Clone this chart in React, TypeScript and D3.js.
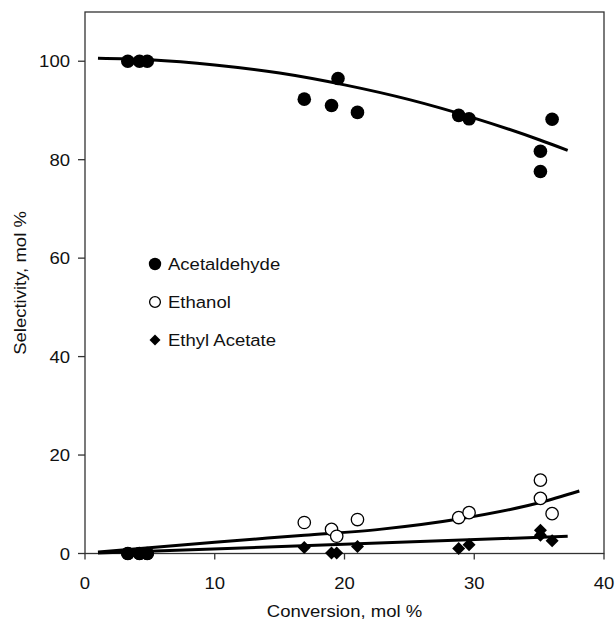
import React from "react";
import * as d3 from "d3";

const xTicks = [0, 10, 20, 30, 40];
const yTicks = [0, 20, 40, 60, 80, 100];

const acetX = [3.3, 4.2, 4.8, 16.9, 19.0, 19.5, 21.0, 28.8, 29.6, 35.1, 35.1, 36.0];
const acetY = [100, 100, 100, 92.3, 91.0, 96.5, 89.6, 89.0, 88.3, 81.7, 77.6, 88.2];

const ethX = [3.3, 4.2, 4.8, 16.9, 19.0, 19.4, 21.0, 28.8, 29.6, 35.1, 35.1, 36.0];
const ethY = [0, 0, 0, 6.3, 4.9, 3.5, 6.9, 7.3, 8.3, 14.9, 11.2, 8.1];

const eaX = [3.3, 4.2, 4.8, 16.9, 19.0, 19.4, 21.0, 28.8, 29.6, 35.1, 35.1, 36.0];
const eaY = [0, 0, 0, 1.2, 0.1, 0.1, 1.4, 1.0, 1.8, 4.7, 3.7, 2.6];

const acetFitX = [1, 5, 10, 15, 20, 25, 30, 35, 37.2];
const acetFitY = [100.6, 100.3, 99.25, 97.6, 95.2, 92.2, 88.45, 84.05, 81.9];
const ethFitX = [1, 10, 16.9, 22.7, 28.8, 35, 38.1];
const ethFitY = [0.3, 2.3, 3.7, 4.9, 7.0, 10.3, 12.7];
const eaFitX = [1, 37.2];
const eaFitY = [0.1, 3.5];

const legendLabels = ["Acetaldehyde", "Ethanol", "Ethyl Acetate"];

const W = 616, H = 625;
const L = 85, R = 604, T = 12, B = 553.5;
const FS = 17;
const SX = 1.09;

function T2(props: { x: number; y: number; anchor?: string; children: React.ReactNode; rotate?: boolean }) {
  const { x, y, anchor = "start", children, rotate } = props;
  return (
    <text
      transform={`translate(${x},${y})${rotate ? " rotate(-90)" : ""} scale(${SX},1)`}
      textAnchor={anchor}
      fontSize={FS}
      fill="#111"
    >
      {children}
    </text>
  );
}

export default function App() {
  const x = d3.scaleLinear().domain([0, 40]).range([L, R]);
  const y = d3.scaleLinear().domain([0, 110]).range([B, T]);
  const line = d3.line<[number, number]>().x(d => x(d[0])).y(d => y(d[1])).curve(d3.curveMonotoneX);
  const zip = (a: number[], b: number[]) => a.map((v, i) => [v, b[i]] as [number, number]);
  const diamond = (cx: number, cy: number, s: number) => `M${cx},${cy - s}L${cx + s},${cy}L${cx},${cy + s}L${cx - s},${cy}Z`;
  const font = "'Liberation Sans', Arial, sans-serif";
  return (
    <svg width={W} height={H} style={{ position: "absolute", left: 0, top: 0, background: "#fff" }} fontFamily={font}>
      <rect x={L} y={T} width={R - L} height={B - T} fill="none" stroke="#333" strokeWidth={1.3} />
      {yTicks.map(t => (
        <g key={"y" + t}>
          <line x1={L - 7} x2={L} y1={y(t)} y2={y(t)} stroke="#333" strokeWidth={1.3} />
          <T2 x={L - 15} y={y(t) + 6} anchor="end">{t}</T2>
        </g>
      ))}
      {xTicks.map(t => (
        <g key={"x" + t}>
          <line x1={x(t)} x2={x(t)} y1={B} y2={B + 6} stroke="#333" strokeWidth={1.3} />
          <T2 x={x(t)} y={B + 35.5} anchor="middle">{t}</T2>
        </g>
      ))}
      <T2 x={(L + R) / 2} y={617} anchor="middle">Conversion, mol %</T2>
      <T2 x={26} y={283} anchor="middle" rotate>Selectivity, mol %</T2>

      <path d={line(zip(acetFitX, acetFitY)) || ""} fill="none" stroke="#000" strokeWidth={3} />
      <path d={line(zip(ethFitX, ethFitY)) || ""} fill="none" stroke="#000" strokeWidth={3} />
      <path d={line(zip(eaFitX, eaFitY)) || ""} fill="none" stroke="#000" strokeWidth={3} />

      {ethX.map((v, i) => (
        <circle key={"e" + i} cx={x(v)} cy={y(ethY[i])} r={6.2} fill="#fff" stroke="#000" strokeWidth={1.3} />
      ))}
      {eaX.map((v, i) => (
        <path key={"a" + i} d={diamond(x(v), y(eaY[i]), 6.5)} fill="#000" />
      ))}
      {acetX.map((v, i) => (
        <circle key={"c" + i} cx={x(v)} cy={y(acetY[i])} r={6.8} fill="#000" />
      ))}
      {ethX.slice(0, 3).map((v, i) => (
        <circle key={"z" + i} cx={x(v)} cy={y(0)} r={6.6} fill="#000" />
      ))}

      <circle cx={155} cy={264} r={6.2} fill="#000" />
      <T2 x={168} y={270}>{legendLabels[0]}</T2>
      <circle cx={155} cy={302} r={5.4} fill="#fff" stroke="#000" strokeWidth={1.3} />
      <T2 x={168} y={308}>{legendLabels[1]}</T2>
      <path d={diamond(155, 340, 5.5)} fill="#000" />
      <T2 x={168} y={346}>{legendLabels[2]}</T2>
    </svg>
  );
}
